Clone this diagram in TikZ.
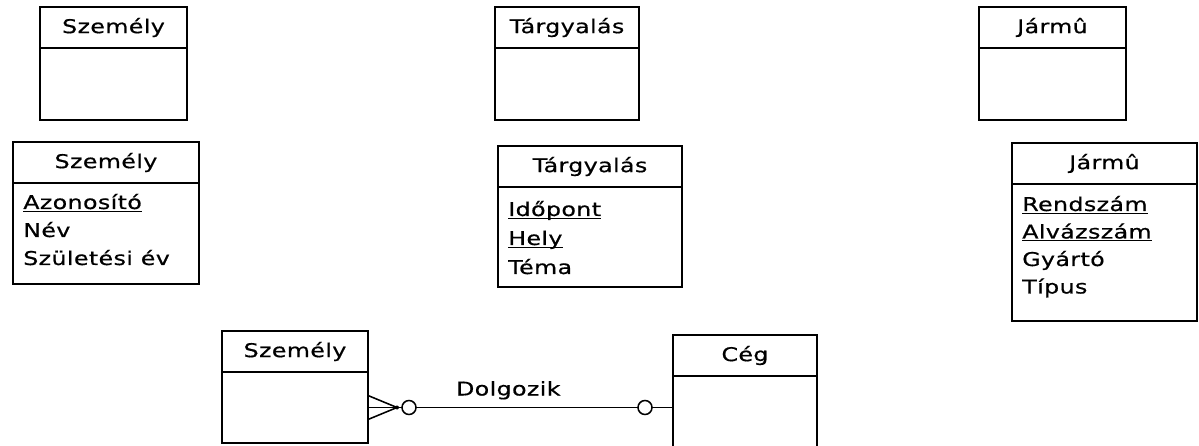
\documentclass[tikz,border=0pt]{standalone}
\usepackage{fontspec}
\setmainfont{DejaVu Sans}[FakeStretch=1.25,LetterSpace=2,FakeBold=0.6]
\usetikzlibrary{positioning}

\newcommand\pixel{0.025cm}
\newcommand\kulcs[1]{\underline{\smash{#1}}}

\begin{document}
\begin{tikzpicture}[x=1*\pixel, y=-1*\pixel,
    every node/.style={font=\fontsize{13.5}{16}\selectfont},
    fej/.style={draw, line width=1.3pt, inner sep=0pt, outer sep=0pt, anchor=north west,
      minimum width=#1*\pixel, minimum height=41*\pixel},
    torzs/.style 2 args={draw, line width=1.3pt, inner sep=0pt, outer sep=0pt,
      minimum width=#1*\pixel, minimum height=#2*\pixel},
    mezo/.style={anchor=base west, inner sep=0pt},
    vonal/.style={line width=1.1pt},
    kor/.style={circle, draw, line width=1.1pt, fill=white, inner sep=0pt, minimum size=14*\pixel}]

  \useasboundingbox (0,0) rectangle (1199,446);
  \clip (0,0) rectangle (1199,446);

  % empty entities
  \node[fej=147] (sz1) at (40,7) {Személy};
  \node[torzs={147}{72}, below=0pt of sz1] (sz1b) {};
  \node[fej=144] (t1) at (495,7) {Tárgyalás};
  \node[torzs={144}{72}, below=0pt of t1] (t1b) {};
  \node[fej=147] (j1) at (979,7) {Jármû};
  \node[torzs={147}{72}, below=0pt of j1] (j1b) {};

  % entities with attributes
  \node[fej=186] (sz2) at (13,142) {Személy};
  \node[torzs={186}{101}, below=0pt of sz2] (sz2b) {};
  \foreach \nev [count=\i] in {\kulcs{Azonosító}, Név, Születési év}
    \node[mezo] (sz2m\i) at ([xshift=10*\pixel, yshift=-(26+28*(\i-1))*\pixel]sz2b.north west) {\nev};

  \node[fej=184] (t2) at (498,146) {Tárgyalás};
  \node[torzs={184}{100}, below=0pt of t2] (t2b) {};
  \foreach \nev [count=\i] in {\kulcs{Időpont}, \kulcs{Hely}, Téma}
    \node[mezo] (t2m\i) at ([xshift=10*\pixel, yshift=-(29+29*(\i-1))*\pixel]t2b.north west) {\nev};

  \node[fej=185] (j2) at (1012,143) {Jármû};
  \node[torzs={185}{137}, below=0pt of j2] (j2b) {};
  \foreach \nev [count=\i] in {\kulcs{Rendszám}, \kulcs{Alvázszám}, Gyártó, Típus}
    \node[mezo] (j2m\i) at ([xshift=10*\pixel, yshift=-(27+27.5*(\i-1))*\pixel]j2b.north west) {\nev};

  % relationship
  \node[fej=146] (sz3) at (222,331) {Személy};
  \node[torzs={146}{71}, below=0pt of sz3] (sz3b) {};
  \node[fej=144] (ceg) at (673,335) {Cég};
  \node[torzs={144}{80}, below=0pt of ceg] (cegb) {};

  \coordinate (csucs) at ([xshift=29*\pixel]sz3b.east);   % crow's foot tip
  \coordinate (cegpont) at (sz3b.east -| cegb.west);

  \draw[vonal] (sz3b.east) -- (cegpont) node[pos=0.46, anchor=base, yshift=12*\pixel] (dolg) {Dolgozik};
  \draw[vonal] ([yshift=12*\pixel]sz3b.east) -- (csucs) -- ([yshift=-12*\pixel]sz3b.east);
  \fill (csucs) circle [radius=2*\pixel];
  \node[kor] (k1) at ([xshift=12*\pixel]csucs) {};
  \node[kor] (k2) at ([xshift=-28*\pixel]cegpont) {};

\end{tikzpicture}
\end{document}
